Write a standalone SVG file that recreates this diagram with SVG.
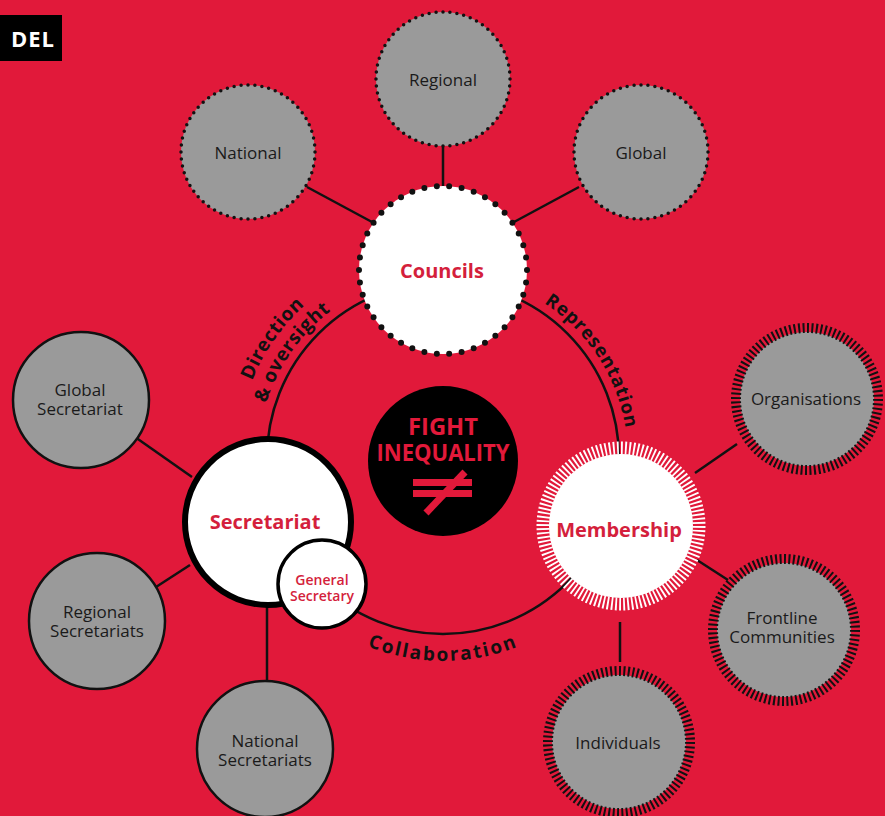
<svg xmlns="http://www.w3.org/2000/svg" width="885" height="816" viewBox="0 0 885 816">
<style>
.conn line,.conn circle{stroke:#111;stroke-width:2.5;fill:none}
.gray{fill:#9A9A9A}
.solid{stroke:#111;stroke-width:2.5}
.dots-s{fill:none;stroke:#111;stroke-width:3.5;stroke-linecap:round;stroke-dasharray:0 1}
.dots-l{fill:none;stroke:#111;stroke-width:6;stroke-linecap:round;stroke-dasharray:0 1}
.ticks{fill:none;stroke:#111;stroke-width:10;stroke-dasharray:0.45 0.55}
.wticks{fill:none;stroke:#fff;stroke-width:13;stroke-dasharray:0.45 0.55}
.lbl{font-family:"Open Sans","Liberation Sans",sans-serif;font-size:17px;font-weight:500;fill:#1a1a1a;text-anchor:middle}
.red{font-family:"Open Sans","Liberation Sans",sans-serif;font-size:20px;font-weight:700;fill:#D41F3C;text-anchor:middle}
.gs{font-size:14px;font-weight:600}
.arc{font-family:"Open Sans","Liberation Sans",sans-serif;font-size:19px;font-weight:700;fill:#111;text-anchor:middle}
</style>
<defs>
<path id="pDir" d="M 240.1 493.7 A 206 206 0 0 1 407.2 255.1"/>
<path id="pOver" d="M 260.8 490.1 A 185 185 0 0 1 410.9 275.8"/>
<path id="pRep" d="M 475.1 275.8 A 185 185 0 0 1 622.5 502.8"/>
<path id="pCol" d="M 299.5 601.5 A 203 203 0 0 0 586.5 601.5"/>
</defs>
<rect width="885" height="816" fill="#E1193A"/>
<g id="title">
<rect x="0" y="15" width="62" height="46" fill="#000"/>
<text x="55" y="47" font-family="Open Sans, Liberation Sans, sans-serif" font-size="22" font-weight="700" fill="#fff" text-anchor="end" letter-spacing="1">DEL</text>
</g>
<g class="conn" id="connectors">
<circle cx="443" cy="458" r="176"/>
<line x1="307" y1="187" x2="372" y2="222"/>
<line x1="579" y1="187" x2="514" y2="222"/>
<line x1="443" y1="147" x2="443" y2="186"/>
<line x1="135" y1="437" x2="192" y2="477"/>
<line x1="156" y1="587" x2="190" y2="565"/>
<line x1="267" y1="606" x2="267" y2="681"/>
<line x1="695" y1="473" x2="737" y2="444"/>
<line x1="697" y1="560" x2="728" y2="580"/>
<line x1="620" y1="622" x2="620" y2="662"/>
</g>
<g id="arc-labels">
<text class="arc" letter-spacing="0.6"><textPath href="#pDir" startOffset="50%">Direction</textPath></text>
<text class="arc" letter-spacing="0.6"><textPath href="#pOver" startOffset="50%">&amp; oversight</textPath></text>
<text class="arc" letter-spacing="0.8" style="font-size:18.5px"><textPath href="#pRep" startOffset="50%">Representation</textPath></text>
<text class="arc" letter-spacing="2"><textPath href="#pCol" startOffset="50%">Collaboration</textPath></text>
</g>
<g id="regional">
<circle class="gray" cx="443" cy="79" r="67"/>
<circle class="dots-s" cx="443" cy="79" r="67" pathLength="60"/>
<text class="lbl" x="443" y="86">Regional</text>
</g>
<g id="national">
<circle class="gray" cx="248" cy="152" r="67"/>
<circle class="dots-s" cx="248" cy="152" r="67" pathLength="60"/>
<text class="lbl" x="248" y="159">National</text>
</g>
<g id="global">
<circle class="gray" cx="641" cy="152" r="67"/>
<circle class="dots-s" cx="641" cy="152" r="67" pathLength="60"/>
<text class="lbl" x="641" y="159">Global</text>
</g>
<g id="councils">
<circle cx="443" cy="270" r="84" fill="#fff"/>
<circle class="dots-l" cx="443" cy="270" r="84" pathLength="42"/>
<text class="red" x="442" y="278">Councils</text>
</g>
<g id="fight-inequality">
<circle cx="443" cy="461" r="75" fill="#000"/>
<text x="443" y="435" font-family="Open Sans, Liberation Sans, sans-serif" font-size="24" font-weight="700" fill="#E2193A" text-anchor="middle" textLength="70" lengthAdjust="spacingAndGlyphs">FIGHT</text>
<text x="443" y="461" font-family="Open Sans, Liberation Sans, sans-serif" font-size="24" font-weight="700" fill="#E2193A" text-anchor="middle" textLength="133" lengthAdjust="spacingAndGlyphs">INEQUALITY</text>
<rect x="413" y="479" width="59" height="7" fill="#E2193A"/>
<rect x="413" y="490" width="59" height="7" fill="#E2193A"/>
<line x1="426" y1="513" x2="465" y2="472" stroke="#E2193A" stroke-width="7"/>
</g>
<g id="global-secretariat">
<circle class="gray solid" cx="81" cy="400" r="68"/>
<text class="lbl" x="80" y="396">Global</text>
<text class="lbl" x="80" y="415">Secretariat</text>
</g>
<g id="regional-secretariats">
<circle class="gray solid" cx="97" cy="621" r="68"/>
<text class="lbl" x="97" y="618">Regional</text>
<text class="lbl" x="97" y="637">Secretariats</text>
</g>
<g id="national-secretariats">
<circle class="gray solid" cx="265" cy="749" r="68"/>
<text class="lbl" x="265" y="747">National</text>
<text class="lbl" x="265" y="766">Secretariats</text>
</g>
<g id="secretariat">
<circle cx="268" cy="522" r="83" fill="#fff" stroke="#000" stroke-width="6"/>
<text class="red" x="265" y="529">Secretariat</text>
</g>
<g id="general-secretary">
<circle cx="322" cy="584" r="44" fill="#fff" stroke="#000" stroke-width="3.5"/>
<text class="red gs" x="322" y="585">General</text>
<text class="red gs" x="322" y="601">Secretary</text>
</g>
<g id="membership">
<circle cx="621" cy="526" r="72" fill="#fff"/>
<circle class="wticks" cx="621" cy="526" r="78" pathLength="120"/>
<text class="red" x="619" y="537">Membership</text>
</g>
<g id="organisations">
<circle class="gray" cx="807" cy="399" r="67"/>
<circle class="ticks" cx="807" cy="399" r="71" pathLength="100"/>
<text class="lbl" x="806" y="405">Organisations</text>
</g>
<g id="frontline-communities">
<circle class="gray" cx="784" cy="630" r="67"/>
<circle class="ticks" cx="784" cy="630" r="71" pathLength="100"/>
<text class="lbl" x="782" y="624">Frontline</text>
<text class="lbl" x="782" y="643">Communities</text>
</g>
<g id="individuals">
<circle class="gray" cx="619" cy="742" r="67"/>
<circle class="ticks" cx="619" cy="742" r="71" pathLength="100"/>
<text class="lbl" x="618" y="749">Individuals</text>
</g>
</svg>
